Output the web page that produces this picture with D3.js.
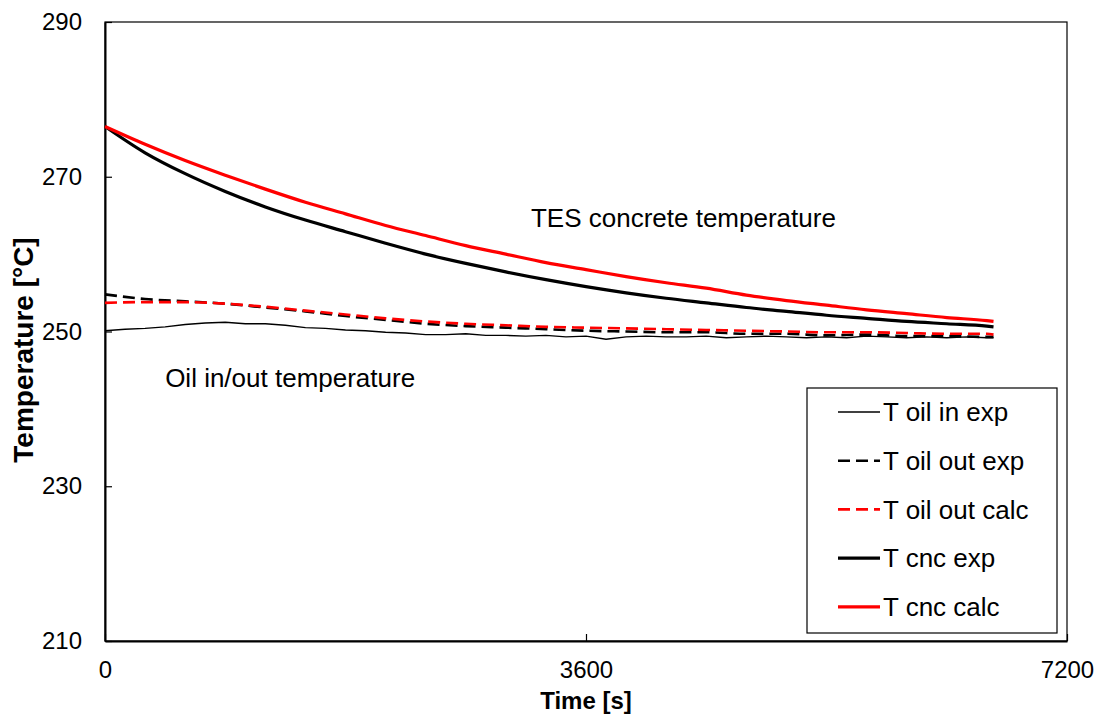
<!DOCTYPE html>
<html>
<head>
<meta charset="utf-8">
<script src="https://cdn.jsdelivr.net/npm/d3@7"></script>
<style>
  body { margin: 0; background: #fff; }
  text { font-family: "Liberation Sans", Arial, sans-serif; fill: #000; }
</style>
</head>
<body>
<div id="chart"></div>
<script>
// time samples [s]
const tFine = d3.range(0, 6601, 150).concat([6650]);
const tCoarse = d3.range(0, 6601, 300).concat([6650]);

// T oil in exp (noisy, sampled every 150 s)
const oilInExp = [250.1, 250.3, 250.4, 250.6, 250.9, 251.1, 251.2, 251.0, 251.0, 250.8,
  250.5, 250.4, 250.2, 250.1, 249.9, 249.8, 249.6, 249.6, 249.7, 249.5,
  249.5, 249.4, 249.5, 249.3, 249.4, 249.0, 249.3, 249.4, 249.3, 249.3,
  249.4, 249.2, 249.3, 249.4, 249.3, 249.2, 249.3, 249.2, 249.4, 249.3,
  249.2, 249.3, 249.2, 249.3, 249.2, 249.2];

// every 300 s
const oilOutExp = [254.8, 254.2, 253.9, 253.6, 253.1, 252.6, 252.0, 251.5, 251.0, 250.7,
  250.5, 250.3, 250.1, 250.0, 249.9, 249.9, 249.7, 249.7, 249.5, 249.6,
  249.4, 249.4, 249.3, 249.3];
const oilOutCalc = [253.7, 253.8, 253.8, 253.6, 253.2, 252.7, 252.2, 251.7, 251.3, 251.0,
  250.8, 250.6, 250.5, 250.4, 250.3, 250.2, 250.1, 250.0, 249.9, 249.9,
  249.8, 249.7, 249.7, 249.6];
const cncExp = [276.5, 273.1, 270.4, 268.1, 266.1, 264.4, 262.9, 261.4, 260.0, 258.8,
  257.7, 256.7, 255.8, 255.0, 254.3, 253.7, 253.1, 252.6, 252.1, 251.7,
  251.3, 251.0, 250.7, 250.6];
const cncCalc = [276.5, 274.2, 272.1, 270.2, 268.4, 266.7, 265.2, 263.7, 262.4, 261.1,
  260.0, 258.9, 258.0, 257.1, 256.3, 255.6, 254.7, 254.0, 253.4, 252.8,
  252.3, 251.8, 251.4, 251.3];

const xTicks = [0, 3600, 7200];
const yTicks = [210, 230, 250, 270, 290];

const series = [
  { name: 'T oil in exp', t: tFine, v: oilInExp, color: '#000', width: 1.4, dash: null, curve: d3.curveLinear },
  { name: 'T oil out exp', t: tCoarse, v: oilOutExp, color: '#000', width: 2.6, dash: '12,6', curve: d3.curveMonotoneX },
  { name: 'T oil out calc', t: tCoarse, v: oilOutCalc, color: '#f00', width: 2.6, dash: '12,6', curve: d3.curveMonotoneX },
  { name: 'T cnc exp', t: tCoarse, v: cncExp, color: '#000', width: 3.2, dash: null, curve: d3.curveMonotoneX },
  { name: 'T cnc calc', t: tCoarse, v: cncCalc, color: '#f00', width: 3.2, dash: null, curve: d3.curveMonotoneX },
];

const W = 1102, H = 718;
const margin = { t: 22, r: 35, b: 77, l: 105 };
const width = W - margin.l - margin.r;
const height = H - margin.t - margin.b;

const svg = d3.select('#chart').append('svg')
  .attr('width', W).attr('height', H);

const g = svg.append('g').attr('transform', `translate(${margin.l}, ${margin.t})`);

const x = d3.scaleLinear().domain([0, 7200]).range([0, width]);
const y = d3.scaleLinear().domain([210, 290]).range([height, 0]);

// frame
g.append('rect')
  .attr('width', width).attr('height', height)
  .attr('fill', 'none').attr('stroke', '#000').attr('stroke-width', 1.2);

// axes, ticks point inward
const xAxis = g.append('g').attr('transform', `translate(0, ${height})`)
  .call(d3.axisBottom(x).tickValues(xTicks).tickFormat(d3.format('d'))
    .tickSizeInner(-7).tickSizeOuter(0).tickPadding(20));
const yAxis = g.append('g')
  .call(d3.axisLeft(y).tickValues(yTicks).tickFormat(d3.format('d'))
    .tickSizeInner(-7).tickSizeOuter(0).tickPadding(23));
[xAxis, yAxis].forEach((a) => {
  a.select('.domain').attr('stroke', '#000').attr('stroke-width', 2);
  a.selectAll('.tick line').attr('stroke', '#000').attr('stroke-width', 1.2);
  a.selectAll('.tick text').attr('font-size', 24).attr('font-family', '"Liberation Sans", Arial, sans-serif');
});

// lines
const line = (s) => d3.line().curve(s.curve)
  .x((d, i) => x(s.t[i])).y((d) => y(d));

g.selectAll('path.series')
  .data(series)
  .join('path')
  .attr('class', 'series')
  .attr('d', (s) => line(s)(s.v))
  .attr('fill', 'none')
  .attr('stroke', (s) => s.color)
  .attr('stroke-width', (s) => s.width)
  .attr('stroke-dasharray', (s) => s.dash);

// annotations
g.append('text').attr('x', x(3188)).attr('y', y(263.5))
  .attr('font-size', 26).text('TES concrete temperature');
g.append('text').attr('x', x(450)).attr('y', y(242.8))
  .attr('font-size', 26).text('Oil in/out temperature');

// axis titles
svg.append('text')
  .attr('x', margin.l + width / 2).attr('y', 709)
  .attr('text-anchor', 'middle').attr('font-size', 24).attr('font-weight', 'bold')
  .text('Time [s]');
svg.append('text')
  .attr('transform', 'translate(33, 350) rotate(-90)')
  .attr('text-anchor', 'middle').attr('font-size', 28).attr('font-weight', 'bold')
  .text('Temperature [°C]');

// legend
const lg = svg.append('g').attr('transform', 'translate(807, 388)');
lg.append('rect').attr('width', 250).attr('height', 245)
  .attr('fill', '#fff').attr('stroke', '#000').attr('stroke-width', 1.2);
const item = lg.selectAll('g.item').data(series).join('g')
  .attr('class', 'item')
  .attr('transform', (d, i) => `translate(0, ${24 + i * 48.7})`);
item.append('line')
  .attr('x1', 31).attr('x2', 73)
  .attr('stroke', (s) => s.color)
  .attr('stroke-width', (s) => s.width)
  .attr('stroke-dasharray', (s) => (s.dash ? '12,6' : null));
item.append('text')
  .attr('x', 76).attr('dy', '0.35em')
  .attr('font-size', 26).text((s) => s.name);
</script>
</body>
</html>
